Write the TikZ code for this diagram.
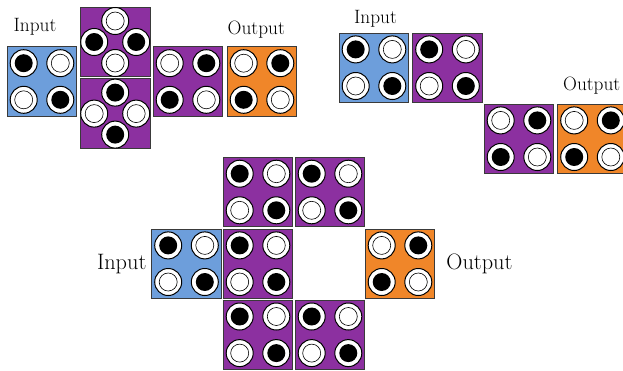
\documentclass[tikz,border=0pt]{standalone}
\usepackage{tikz}
\usetikzlibrary{positioning}
\definecolor{inblue}{HTML}{6D9EDB}
\definecolor{midpurple}{HTML}{8C30A0}
\definecolor{outorange}{HTML}{F08629}
\definecolor{edge}{HTML}{3A3A3A}

\tikzset{
  tile/.style={draw=edge,line width=0.8pt,minimum size=69.5pt,inner sep=0pt},
  rim/.style={fill=white,draw=black,line width=1pt},
  full/.style={fill=black},
  empty/.style={fill=white,draw=black,line width=0.6pt},
  small label/.style={font=\fontsize{19.3}{22}\selectfont,anchor=base},
  big label/.style={font=\fontsize{22.3}{26}\selectfont,anchor=base}
}

% one peg: white rim, hole either full or empty
\newcommand{\peg}[2]{%
  \path[rim] #1 circle (13.5);
  \path[#2] #1 circle (9);}

% 2x2 pegs on a tile: TL, TR, BL, BR
\newcommand{\squarepegs}[5]{%
  \peg{([shift={(-18.3,-18.3)}]#1.center)}{#2}
  \peg{([shift={(18.3,-18.3)}]#1.center)}{#3}
  \peg{([shift={(-18.3,18.3)}]#1.center)}{#4}
  \peg{([shift={(18.3,18.3)}]#1.center)}{#5}}

% diamond of pegs on a tile: top, left, right, bottom
\newcommand{\diamondpegs}[5]{%
  \peg{([shift={(0,-21)}]#1.center)}{#2}
  \peg{([shift={(-21,0)}]#1.center)}{#3}
  \peg{([shift={(21,0)}]#1.center)}{#4}
  \peg{([shift={(0,21)}]#1.center)}{#5}}

\begin{document}
\begin{tikzpicture}[x=1pt,y=-1pt]
  \useasboundingbox (0,0) rectangle (623,370);
  \clip (0,0) rectangle (623,370);

  % Left chain with split middle
  \node[tile,fill=inblue] (in1) at (42,81.5) {};
  \node[tile,fill=midpurple] (splitA) at (115.2,42) {};
  \node[tile,fill=midpurple] (splitB) at (115.2,113.6) {};
  \node[tile,fill=midpurple] (mid1) at (188,81.5) {};
  \node[tile,fill=outorange] (out1) at (262,81.5) {};
  \squarepegs{in1}{full}{empty}{empty}{full}
  \diamondpegs{splitA}{empty}{full}{full}{empty}
  \diamondpegs{splitB}{full}{empty}{empty}{full}
  \squarepegs{mid1}{empty}{full}{full}{empty}
  \squarepegs{out1}{empty}{full}{full}{empty}
  \node[small label] (inlabel1) at (35,31) {Input};
  \node[small label] (outlabel1) at (256.3,34) {Output};

  % Staircase chain
  \node[tile,fill=inblue] (in2) at (374,67.7) {};
  \node[tile,fill=midpurple] (mid2) at (447.5,67.7) {};
  \node[tile,fill=midpurple] (mid3) at (519,138.7) {};
  \node[tile,fill=outorange] (out2) at (592.5,138.7) {};
  \squarepegs{in2}{full}{empty}{empty}{full}
  \squarepegs{mid2}{full}{empty}{empty}{full}
  \squarepegs{mid3}{empty}{full}{full}{empty}
  \squarepegs{out2}{empty}{full}{full}{empty}
  \node[small label] (inlabel2) at (375.5,23.5) {Input};
  \node[small label] (outlabel2) at (591.7,90) {Output};

  % Ring of tiles
  \node[tile,fill=midpurple] (ringA) at (258,192) {};
  \node[tile,fill=midpurple] (ringB) at (330,192) {};
  \node[tile,fill=inblue] (in3) at (186.5,263.7) {};
  \node[tile,fill=midpurple] (ringC) at (258,263.7) {};
  \node[tile,fill=outorange] (out3) at (400,263.7) {};
  \node[tile,fill=midpurple] (ringD) at (258,334.8) {};
  \node[tile,fill=midpurple] (ringE) at (330,334.8) {};
  \squarepegs{ringA}{full}{empty}{empty}{full}
  \squarepegs{ringB}{full}{empty}{empty}{full}
  \squarepegs{in3}{full}{empty}{empty}{full}
  \squarepegs{ringC}{full}{empty}{empty}{full}
  \squarepegs{out3}{empty}{full}{full}{empty}
  \squarepegs{ringD}{full}{empty}{empty}{full}
  \squarepegs{ringE}{full}{empty}{empty}{full}
  \node[big label] (inlabel3) at (121.7,269.3) {Input};
  \node[big label] (outlabel3) at (479.5,269.3) {Output};
\end{tikzpicture}
\end{document}
